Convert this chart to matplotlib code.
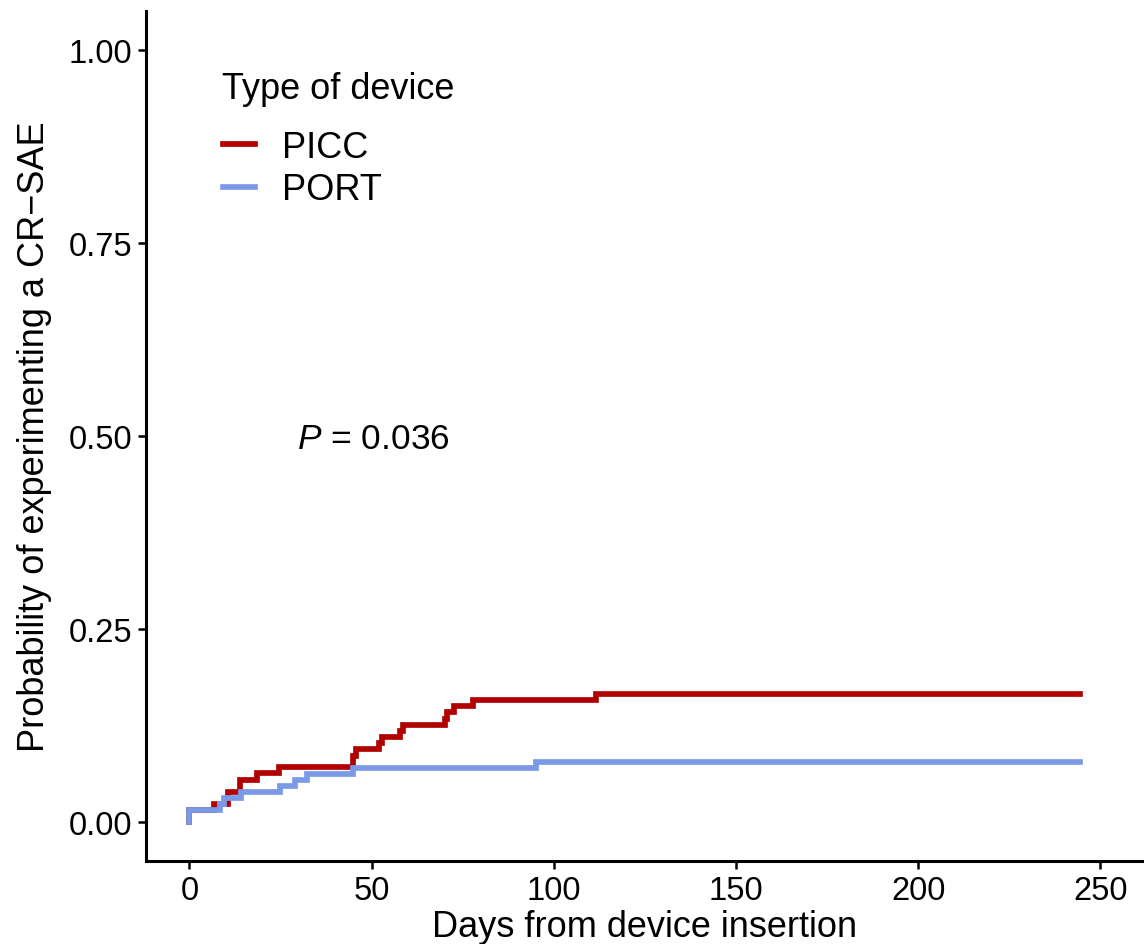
import numpy as np
import matplotlib
matplotlib.use("Agg")
from matplotlib import pyplot as plt

plt.rcParams['font.family'] = ['Liberation Sans', 'DejaVu Sans']
plt.rcParams['mathtext.fontset'] = 'custom'
plt.rcParams['mathtext.rm'] = 'Liberation Sans'
plt.rcParams['mathtext.it'] = 'Liberation Sans:italic'

# cumulative incidence (step after each day)
picc_days = [0, 0, 6.7, 10.7, 13.8, 18.7, 24.7, 44.8, 45.7, 52.1, 52.8, 57.8,
             58.7, 70.1, 70.6, 72.6, 77.9, 111.7, 244.5]
picc_prob = [0.0, 0.015, 0.023, 0.039, 0.055, 0.063, 0.071, 0.086, 0.094, 0.102,
             0.110, 0.118, 0.126, 0.134, 0.142, 0.150, 0.158, 0.166, 0.166]

port_days = [0, 0, 8.4, 9.5, 14.3, 24.8, 29.0, 32.2, 45.0, 95.0, 244.5]
port_prob = [0.0, 0.015, 0.023, 0.031, 0.039, 0.047, 0.055, 0.062, 0.070,
             0.078, 0.078]

groups = ["PICC", "PORT"]
colors = ["#B00000", "#7A9AE8"]
x_ticks = [0, 50, 100, 150, 200, 250]
y_ticks = [0.0, 0.25, 0.5, 0.75, 1.0]
p_label = "$P$ = 0.036"

fig = plt.figure(figsize=(11.44, 9.45), dpi=100)
ax = fig.add_axes([146 / 1144, 1 - 862 / 945, 1 - 146 / 1144, (862 - 12) / 945])

ax.step(picc_days, picc_prob, where="post", color=colors[0], lw=4.1,
        label=groups[0], solid_joinstyle="miter")
ax.step(port_days, port_prob, where="post", color=colors[1], lw=4.1,
        label=groups[1], solid_joinstyle="miter")

ax.set_xlim(-11.9, 262)
ax.set_ylim(-0.0505, 1.0505)
ax.set_xticks(x_ticks)
ax.set_yticks(y_ticks)
ax.set_yticklabels(["%.2f" % v for v in y_ticks])

for s in ["top", "right"]:
    ax.spines[s].set_visible(False)
for s in ["left", "bottom"]:
    ax.spines[s].set_linewidth(2.2)
ax.tick_params(axis="both", length=6, width=1.8, labelsize=23.5, pad=4, color="black")

ax.set_xlabel("Days from device insertion", fontsize=26, labelpad=2)
ax.set_ylabel("Probability of experimenting a CR\u2212SAE", fontsize=26, labelpad=12)

ax.text(29.5, 0.497, p_label, fontsize=25.5, va="center", ha="left")

leg = ax.legend(title="Type of device", loc="upper left",
                bbox_to_anchor=(190 / 1144, 1 - 40 / 945), bbox_transform=fig.transFigure,
                frameon=False, fontsize=26, title_fontsize=26,
                handlelength=0.9, handletextpad=0.75, labelspacing=0.2)
leg._legend_box.align = "left"
leg._legend_box.sep = 17

fig.savefig("out.png", dpi=100)
